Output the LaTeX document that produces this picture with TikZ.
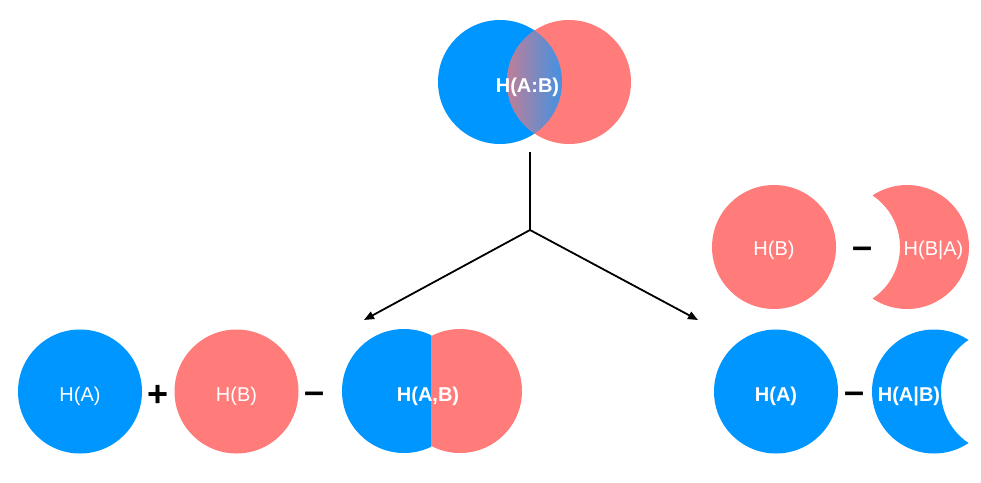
\documentclass[tikz,border=0pt]{standalone}
\usepackage{fontspec}
\setmainfont{Liberation Sans}
\usetikzlibrary{arrows.meta}
\definecolor{cblue}{RGB}{0,150,255}
\definecolor{cred}{RGB}{255,124,122}
\definecolor{lensL}{RGB}{192,126,150}
\definecolor{lensR}{RGB}{64,146,228}
\tikzset{
  disc/.style={circle, minimum size=124pt, inner sep=0pt, draw=none},
  lbl/.style={text=white, font=\fontsize{20}{24}\selectfont, anchor=base, inner sep=0pt},
  blbl/.style={text=white, font=\bfseries\fontsize{20}{24}\selectfont, anchor=base, inner sep=0pt},
  op/.style={font=\bfseries\fontsize{36}{40}\selectfont, anchor=base, inner sep=0pt},
  conn/.style={line width=1.8pt},
  arr/.style={line width=1.8pt, -{Triangle[length=10pt,width=8pt]}}
}
\begin{document}
\begin{tikzpicture}[x=1pt,y=-1pt]
\useasboundingbox (0,0) rectangle (981,482);
% top venn
\node[disc, fill=cblue] (ta) at (500,82) {};
\node[disc, fill=cred] (tb) at (569,82) {};
\begin{scope}
  \clip (500,82) circle[radius=62pt];
  \clip (569,82) circle[radius=62pt];
  \shade[left color=lensL, right color=lensR] (506,10) rectangle (563,150);
\end{scope}
\node[blbl] (tab) at (527.5,92) {H(A:B)};
% connectors
\coordinate (stem) at (530,152);
\coordinate (fork) at (530,230);
\coordinate (lend) at (364,320);
\coordinate (rend) at (698,320);
\draw[conn] (stem) -- (fork);
\draw[arr] (fork) -- (lend);
\draw[arr] (fork) -- (rend);
% bottom-left row
\node[disc, fill=cblue] (la) at (80,391.5) {};
\node[lbl] (laT) at (80,401) {H(A)};
\node[op] (plus) at (158.5,406.5) {+};
\node[disc, fill=cred] (lb) at (236.5,391.5) {};
\node[lbl] (lbT) at (236.5,401) {H(B)};
\node[op] (minA) at (315,403) {–};
\begin{scope}
  \clip (0,0) rectangle (431,482);
  \fill[cblue] (404,391) circle[radius=62pt];
\end{scope}
\begin{scope}
  \clip (431,0) rectangle (981,482);
  \fill[cred] (460,391) circle[radius=62pt];
\end{scope}
\node[blbl] (lab) at (428,401) {H(A,B)};
% right top row
\node[disc, fill=cred] (rb) at (774,247) {};
\node[lbl] (rbT) at (774,255) {H(B)};
\node[op] (minB) at (862,258.5) {–};
\fill[cred]
  plot[domain=-123.81:123.81, samples=90] ({907+62*cos(\x)},{247+62*sin(\x)})
  -- plot[domain=56.19:-56.19, samples=60] ({838+62*cos(\x)},{247+62*sin(\x)})
  -- cycle;
\node[lbl] (rbaT) at (933.5,255) {H(B|A)};
% right bottom row
\node[disc, fill=cblue] (ra) at (776,391.5) {};
\node[blbl] (raT) at (776,401) {H(A)};
\node[op] (minC) at (854,403) {–};
\fill[cblue]
  plot[domain=56.19:303.81, samples=90] ({934+62*cos(\x)},{391.5+62*sin(\x)})
  -- plot[domain=236.19:123.81, samples=60] ({1003+62*cos(\x)},{391.5+62*sin(\x)})
  -- cycle;
\node[blbl] (rabT) at (909,401) {H(A|B)};
\end{tikzpicture}
\end{document}
